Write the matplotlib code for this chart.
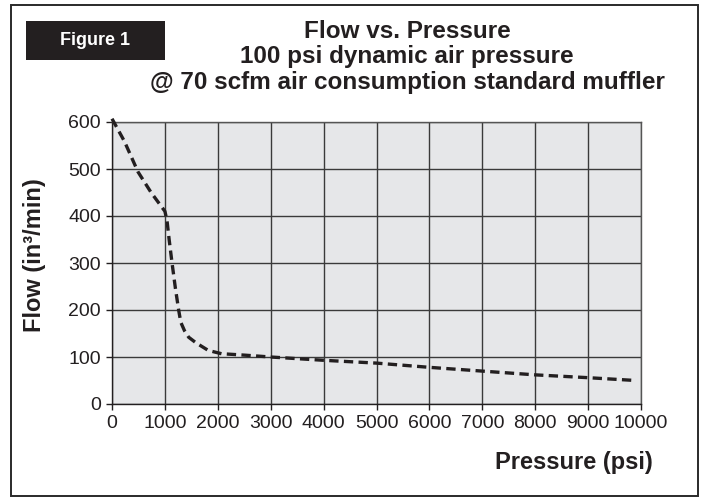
import matplotlib.pyplot as plt
from matplotlib.patches import Rectangle

plt.rcParams['font.family'] = ['Liberation Sans', 'DejaVu Sans']

# curve
pressure = [0, 234, 491, 739, 1000, 1040, 1080, 1135, 1200, 1260, 1300, 1370,
            1450, 1590, 1820, 2070, 2500, 3000, 4000, 5000, 6000, 7000, 8000,
            9000, 9900]
flow = [607, 559, 494, 450, 410, 390, 350, 300, 245, 200, 174, 156,
        142, 130, 114, 107, 104, 100, 93, 87, 78, 70, 62, 56, 50]

x_ticks = [0, 1000, 2000, 3000, 4000, 5000, 6000, 7000, 8000, 9000, 10000]
y_ticks = [0, 100, 200, 300, 400, 500, 600]

title_lines = ['Flow vs. Pressure',
               '100 psi dynamic air pressure',
               '@ 70 scfm air consumption standard muffler']

W, H = 705, 501
fig = plt.figure(figsize=(W / 100, H / 100), dpi=100)

# outer frame
fig.patches.append(Rectangle((11 / W, 1 - 496 / H), 687 / W, 491 / H,
                             transform=fig.transFigure, fill=False,
                             edgecolor='#2a2a2a', linewidth=1.4))
# "Figure 1" tag
fig.patches.append(Rectangle((26 / W, 1 - 60 / H), 139 / W, 39 / H,
                             transform=fig.transFigure, facecolor='#231f20',
                             edgecolor='none'))
fig.text(95 / W, 1 - 41 / H, 'Figure 1', color='white', fontsize=13,
         fontweight='bold', ha='center', va='center')

for i, line in enumerate(title_lines):
    fig.text(407 / W, 1 - (38 + 25.5 * i) / H, line, fontsize=17.5,
             fontweight='bold', ha='center', va='baseline', color='#231f20')

ax = fig.add_axes([112 / W, 1 - 404 / H, 529 / W, 282 / H])
ax.set_facecolor('#e6e7e9')
ax.plot(pressure, flow, color='#231f20', linewidth=2.4,
        linestyle=(0, (2.8, 1.6)), clip_on=False, zorder=3)

ax.set_xlim(0, 10000)
ax.set_ylim(0, 600)
ax.set_xticks(x_ticks)
ax.set_yticks(y_ticks)
ax.grid(True, color='#3a3a3a', linewidth=1.0)
ax.set_axisbelow(True)
for s in ax.spines.values():
    s.set_color('#555555')
    s.set_linewidth(1.0)
ax.spines['left'].set_color('#231f20')
ax.spines['bottom'].set_color('#231f20')
ax.tick_params(direction='out', length=4, width=1, color='#231f20',
               labelsize=14, labelcolor='#231f20', pad=4)

fig.text(35 / W, 1 - 255 / H, 'Flow (in³/min)', rotation=90, fontsize=17,
         fontweight='bold', ha='center', va='center', color='#231f20')
fig.text(653 / W, 1 - 462 / H, 'Pressure (psi)', fontsize=17,
         fontweight='bold', ha='right', va='center', color='#231f20')

fig.savefig('out.png', dpi=100)
